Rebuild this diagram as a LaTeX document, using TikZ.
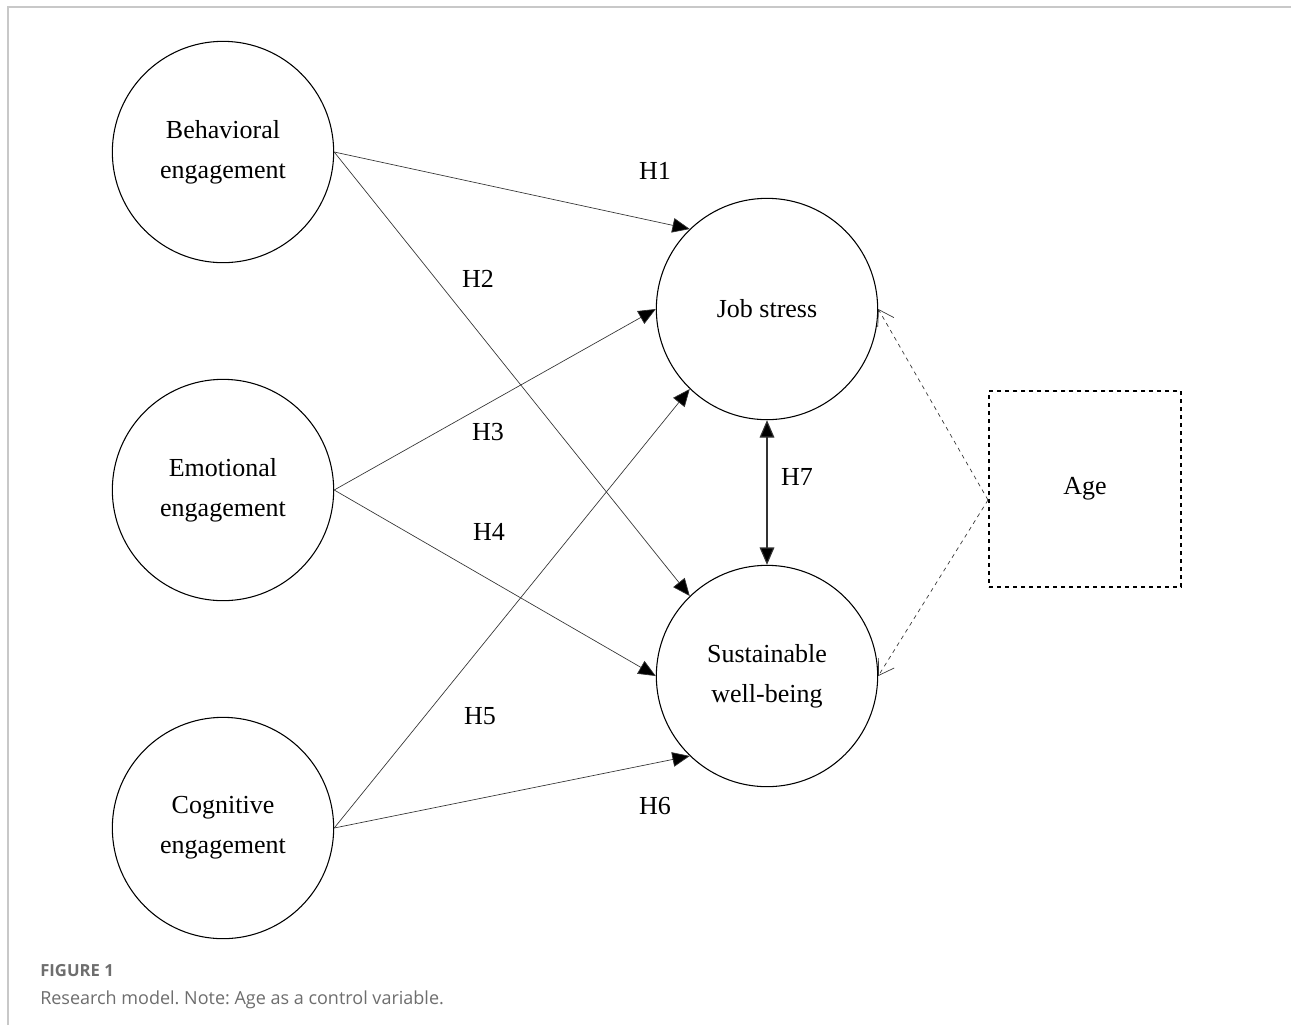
\documentclass[tikz,border=0pt]{standalone}
\usepackage{fontspec}
\setmainfont{Liberation Serif}
\newfontfamily\captionfont{Open Sans}
\usetikzlibrary{arrows.meta}
\definecolor{framegray}{HTML}{C8C8C8}
\definecolor{capgray}{HTML}{6E6E6E}
\definecolor{linkgray}{HTML}{333333}

\tikzset{
    construct/.style={circle, draw, line width=0.8pt, minimum size=166pt, inner sep=0pt,
        align=center, font=\fontsize{19.5}{30}\selectfont},
    control/.style={draw, dashed, line width=0.8pt, minimum width=144pt, minimum height=147pt,
        font=\fontsize{19.5}{30}\selectfont},
    path/.style={draw=linkgray, line width=0.5pt, -{Triangle[length=13pt,width=11pt,fill=black]}},
    ctrlpath/.style={draw=linkgray, dashed, line width=0.5pt, -{Straight Barb[length=11pt,width=14pt]}},
    hlabel/.style={font=\fontsize{19.5}{24}\selectfont},
}

\begin{document}
\frenchspacing
\begin{tikzpicture}[x=0.75pt, y=-0.75pt]
    \useasboundingbox (0,0) rectangle (1291,1025);
    \fill[white] (0,0) rectangle (1291,1025);
    % frame
    \draw[framegray, line width=1.5pt] (8,1025)--(8,7)--(1291,7);

    % constructs
    \node[construct] (BE) at (223,152){Behavioral\\engagement};
    \node[construct] (EE) at (223,490){Emotional\\engagement};
    \node[construct] (CE) at (223,828){Cognitive\\engagement};
    \node[construct] (JS) at (767,309){Job stress};
    \node[construct] (SW) at (767,676){Sustainable\\well-being};
    \node[control] (Age) at (1085,489){Age};
    \coordinate (agetip) at (988,500);

    % hypotheses
    \draw[path] (BE.east)--(JS.134);
    \draw[path] (BE.east)--(SW.134);
    \draw[path] (EE.east)--(JS.180);
    \draw[path] (EE.east)--(SW.180);
    \draw[path] (CE.east)--(JS.226);
    \draw[path] (CE.east)--(SW.226);
    \draw[path, line width=0.8pt, {Triangle[length=13pt,width=11pt,fill=black]}-{Triangle[length=13pt,width=11pt,fill=black]}] (JS.south)--(SW.north);

    % control variable
    \draw[ctrlpath] (agetip)--(JS.east);
    \draw[ctrlpath] (agetip)--(SW.east);

    \node[hlabel] (h1) at (655,171){H1};
    \node[hlabel] (h2) at (478,279){H2};
    \node[hlabel] (h3) at (488,432){H3};
    \node[hlabel] (h4) at (489,532){H4};
    \node[hlabel] (h5) at (480,716){H5};
    \node[hlabel] (h6) at (655,806){H6};
    \node[hlabel] (h7) at (797,477){H7};

    % caption
    \node[anchor=base west, inner sep=0pt, text=capgray, font=\captionfont\bfseries\fontsize{12.5}{15}\selectfont] (fig) at (40,976){FIGURE 1};
    \node[anchor=base west, inner sep=0pt, text=capgray, font=\captionfont\fontsize{13.5}{16}\selectfont] (cap) at (40,1004){Research model. Note: Age as a control variable.};
\end{tikzpicture}
\end{document}
